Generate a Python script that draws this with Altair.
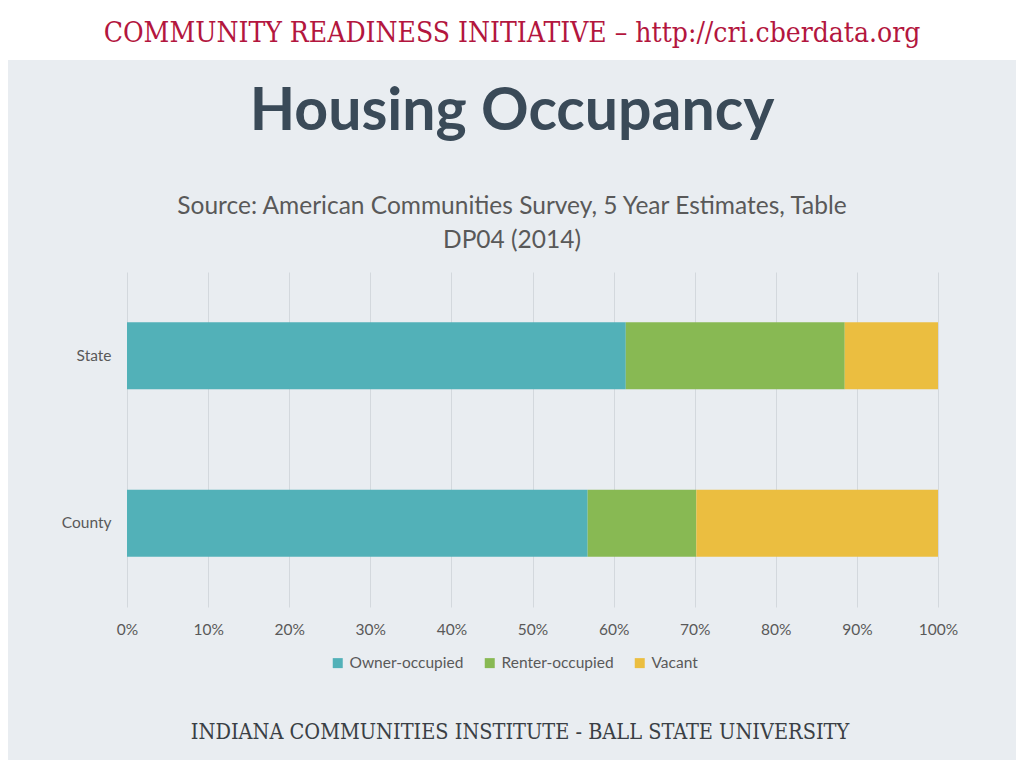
import altair as alt
import pandas as pd

groups = ["State", "County"]
series = ["Owner-occupied", "Renter-occupied", "Vacant"]
owner = [61.5, 56.8]
renter = [27.0, 13.4]
vacant = [11.5, 29.8]
colors = ["#52B1B8", "#88B953", "#EBBE40"]
x_ticks = [0, 10, 20, 30, 40, 50, 60, 70, 80, 90, 100]

header = "COMMUNITY READINESS INITIATIVE – http://cri.cberdata.org"
title = "Housing Occupancy"
sub1 = "Source: American Communities Survey, 5 Year Estimates, Table"
sub2 = "DP04 (2014)"
footer = "INDIANA COMMUNITIES INSTITUTE - BALL STATE UNIVERSITY"

rows = []
for gi, g in enumerate(groups):
    for si, (s, vals) in enumerate(zip(series, [owner, renter, vacant])):
        rows.append({"group": g, "series": s, "value": vals[gi], "order": si})
df = pd.DataFrame(rows)

W, H = 811, 335
PL, PT = 119, 264
BG = "#E9EDF1"
CX = 385

bars = alt.Chart(df).mark_bar().encode(
    y=alt.Y("group:N", sort=groups, title=None,
            scale=alt.Scale(paddingInner=0.6, paddingOuter=0.3),
            axis=alt.Axis(ticks=False, domain=False, labelPadding=16,
                          labelFontSize=15.5, labelColor="#595959", labelFont="Lato",
                          grid=False)),
    x=alt.X("value:Q", stack="zero", title=None,
            scale=alt.Scale(domain=[0, 100], nice=False),
            axis=alt.Axis(values=x_ticks, labelExpr="datum.value + '%'",
                          ticks=False, domain=False, labelPadding=15, labelFlush=False,
                          labelFontSize=15.5, labelColor="#595959", labelFont="Lato",
                          grid=True, gridColor="#D3D8DD", gridWidth=1)),
    color=alt.Color("series:N", sort=series,
                    scale=alt.Scale(domain=series, range=colors),
                    legend=alt.Legend(title=None, orient="none", legendX=203, legendY=383,
                                      direction="horizontal", symbolType="square",
                                      symbolSize=100, symbolStrokeWidth=0,
                                      labelFontSize=15.5, labelColor="#595959", labelFont="Lato",
                                      columnPadding=18, labelOffset=4)),
    order=alt.Order("order:Q"),
)

def txt(s, x, y, size, color, font, weight="normal"):
    return alt.Chart(pd.DataFrame({"t": [s]})).mark_text(
        fontSize=size, color=color, font=font, fontWeight=weight,
        align="center", baseline="middle").encode(
        text="t:N", x=alt.value(x), y=alt.value(y))

strip = alt.Chart(pd.DataFrame({"a": [0]})).mark_rect(color="white").encode(
    x=alt.value(-PL), x2=alt.value(W + 200), y=alt.value(-PT), y2=alt.value(-212))

chart = alt.layer(
    strip,
    bars,
    txt(header, CX, -238, 28, "#B3163E", "DejaVu Serif Condensed"),
    txt(title, CX, -160, 59, "#3A4A58", "Lato", "bold"),
    txt(sub1, CX, -65, 24.5, "#595959", "Lato"),
    txt(sub2, CX, -31, 24.5, "#595959", "Lato"),
    txt(footer, CX + 8, 461, 21.5, "#3A3F45", "DejaVu Serif Condensed"),
).properties(
    width=W, height=H,
    autosize=alt.AutoSizeParams(type="none"),
    padding={"left": PL, "top": PT, "right": 1008 - PL - W, "bottom": 752 - PT - H},
    background=BG,
).configure_view(stroke=None).configure_axis(labelFont="Lato")

chart.save("out.html", embed_options={"renderer": "svg", "actions": False})
